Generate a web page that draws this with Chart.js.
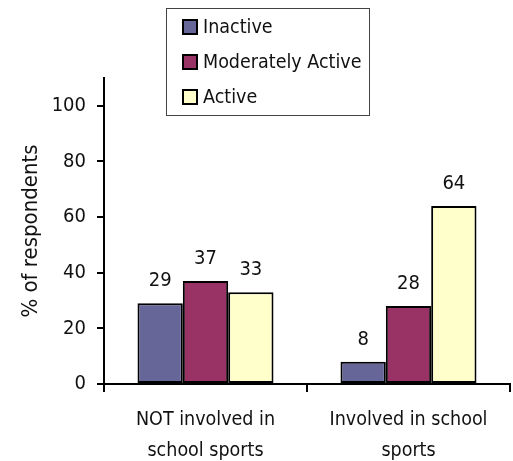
<!DOCTYPE html>
<html>
<head>
<meta charset="utf-8">
<script src="https://cdn.jsdelivr.net/npm/chart.js@4/dist/chart.umd.min.js"></script>
<style>
  html, body { margin: 0; padding: 0; background: #ffffff; }
  #wrap { width: 513px; height: 461px; position: relative; }
</style>
</head>
<body>
<div id="wrap"><canvas id="c" width="513" height="461"></canvas></div>
<script>
const categories = [["NOT involved in", "school sports"], ["Involved in school", "sports"]];
const seriesNames = ["Inactive", "Moderately Active", "Active"];
const inactive = [29, 8];
const moderatelyActive = [37, 28];
const active = [33, 64];
const yTicks = [0, 20, 40, 60, 80, 100];
const yAxisTitle = "% of respondents";

const colors = ["#666699", "#993366", "#FFFFCC"];
const FONT = '"Liberation Sans Narrow", "Arial Narrow", "DejaVu Sans Condensed", sans-serif';
const TXT = "#111111";

const valueLabels = {
  id: "valueLabels",
  afterDatasetsDraw(chart) {
    const ctx = chart.ctx;
    ctx.save();
    ctx.font = "20px " + FONT;
    ctx.fillStyle = TXT;
    ctx.textAlign = "center";
    ctx.textBaseline = "alphabetic";
    chart.data.datasets.forEach((ds, i) => {
      const meta = chart.getDatasetMeta(i);
      meta.data.forEach((bar, j) => {
        ctx.fillText(String(ds.data[j]), bar.x, bar.y - 17);
      });
    });
    ctx.restore();
  }
};

const boxLegend = {
  id: "boxLegend",
  afterDraw(chart) {
    const ctx = chart.ctx;
    ctx.save();
    ctx.strokeStyle = "#444444";
    ctx.lineWidth = 1;
    ctx.strokeRect(166.5, 8.5, 203, 107);
    ctx.font = "19.5px " + FONT;
    ctx.textBaseline = "middle";
    ctx.textAlign = "left";
    chart.data.datasets.forEach((ds, i) => {
      const cy = 27 + i * 35;
      ctx.fillStyle = ds.backgroundColor;
      ctx.fillRect(183, cy - 7, 14, 14);
      ctx.strokeStyle = "#000000";
      ctx.lineWidth = 2;
      ctx.strokeRect(183, cy - 7, 14, 14);
      ctx.fillStyle = TXT;
      ctx.fillText(ds.label, 203, cy + 1);
    });
    ctx.restore();
  }
};

new Chart(document.getElementById("c"), {
  type: "bar",
  data: {
    labels: categories,
    datasets: [
      { label: seriesNames[0], data: inactive, backgroundColor: colors[0] },
      { label: seriesNames[1], data: moderatelyActive, backgroundColor: colors[1] },
      { label: seriesNames[2], data: active, backgroundColor: colors[2] }
    ].map(d => Object.assign(d, { borderColor: "#000000", borderWidth: 2, borderSkipped: false }))
  },
  options: {
    responsive: false,
    animation: false,
    devicePixelRatio: 1,
    layout: { padding: { left: 0, right: 3, top: 78, bottom: 0 } },
    datasets: { bar: { categoryPercentage: 0.67, barPercentage: 1 } },
    plugins: {
      legend: { display: false },
      tooltip: { enabled: false }
    },
    scales: {
      x: {
        offset: true,
        grid: { display: true, offset: true, drawOnChartArea: false, drawTicks: true, tickLength: 8, color: "#000000", lineWidth: 2 },
        border: { display: true, color: "#000000", width: 2 },
        ticks: { color: TXT, font: { family: FONT, size: 19.5, lineHeight: 1.6 }, padding: 12, maxRotation: 0, autoSkip: false },
        afterFit(s) { s.height = 461 - 384; }
      },
      y: {
        min: 0,
        max: 110,
        afterBuildTicks(s) { s.ticks = yTicks.map(v => ({ value: v })); },
        grid: { display: true, drawOnChartArea: false, drawTicks: true, tickLength: 7, color: "#000000", lineWidth: 2 },
        border: { display: true, color: "#000000", width: 2 },
        ticks: { color: TXT, font: { family: FONT, size: 20 }, padding: 11 },
        title: { display: true, text: yAxisTitle, color: TXT, font: { family: FONT, size: 22, lineHeight: 1.2 }, padding: { top: 18, bottom: 0 } },
        afterFit(s) { s.width = 104; }
      }
    }
  },
  plugins: [valueLabels, boxLegend]
});
</script>
</body>
</html>
